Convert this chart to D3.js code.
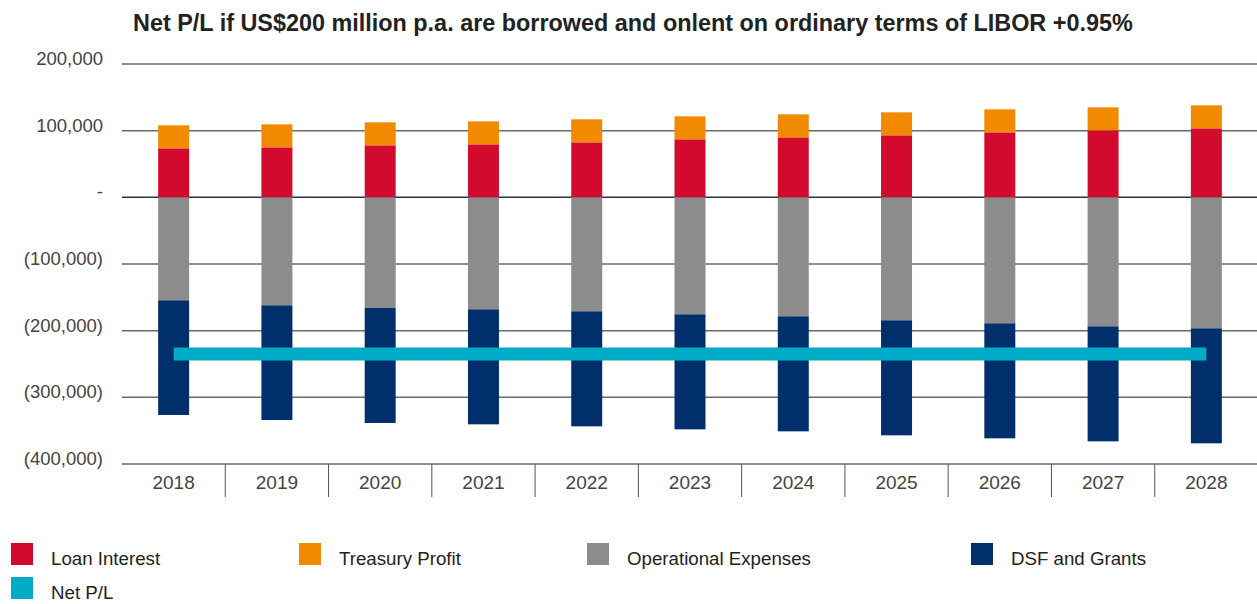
<!DOCTYPE html>
<html><head><meta charset="utf-8">
<script src="https://cdn.jsdelivr.net/npm/d3@7"></script>
<style>
html,body{margin:0;padding:0;background:#fff;}
svg{display:block;font-family:"Liberation Sans",Arial,Helvetica,sans-serif;}
</style></head>
<body><svg id="c" width="1257" height="604"></svg>
<script>
const years = ["2018","2019","2020","2021","2022","2023","2024","2025","2026","2027","2028"];
const loanInterest = [73500, 75000, 78000, 79500, 82500, 87000, 90000, 93000, 97500, 100500, 103500];
const treasuryProfit = [34500, 34500, 34500, 34500, 34500, 34500, 34500, 34500, 34500, 34500, 34500];
const operationalExpenses = [-154500, -162000, -166000, -168000, -171000, -175500, -178500, -184500, -189000, -193500, -196500];
const dsfAndGrants = [-172000, -172000, -172500, -172500, -172500, -172500, -172500, -172500, -172500, -172500, -172500];
const netPL = [-235000, -235000, -235000, -235000, -235000, -235000, -235000, -235000, -235000, -235000, -235000];
const yTicks = [200000, 100000, 0, -100000, -200000, -300000, -400000];
const seriesNames = ["Loan Interest", "Treasury Profit", "Operational Expenses", "DSF and Grants", "Net P/L"];
const seriesColors = ["#D10A2E", "#F28A00", "#8B8C8B", "#002F6C", "#00ABC8"];
const title = "Net P/L if US$200 million p.a. are borrowed and onlent on ordinary terms of LIBOR +0.95%";

const svg = d3.select("#c");
const L = 122, R = 1258, T = 64, B = 464;

const x = d3.scaleBand().domain(years).range([L, R]).paddingInner(0.7).paddingOuter(0.35);
const y = d3.scaleLinear().domain([-400000, 200000]).range([B, T]);

const fmt = v => v === 0 ? "-" : (v < 0 ? "(" + d3.format(",")(-v) + ")" : d3.format(",")(v));

// title
svg.append("text").attr("x", 133).attr("y", 31).attr("font-size", 23.4).attr("font-weight", "bold")
  .attr("fill", "#222").text(title);

// gridlines
svg.append("g").selectAll("line").data(yTicks).join("line")
  .attr("x1", L).attr("x2", 1257).attr("y1", d => y(d)).attr("y2", d => y(d))
  .attr("stroke", d => (d === 0) ? "#333" : "#6a6a6a").attr("stroke-width", 1.5);

// y labels
const yAxis = d3.axisLeft(y).tickValues(yTicks).tickFormat(fmt).tickSize(0).tickPadding(0);
const gy = svg.append("g").attr("transform", `translate(${103},0)`).call(yAxis);
gy.select(".domain").remove();
gy.selectAll("text").attr("font-size", 18.5).attr("fill", "#444")
  .attr("font-family", "'Liberation Sans',Arial,sans-serif")
  .attr("dy", "0.02em");

// stacked bars
const rows = years.map((yr, i) => ({year: yr, loan: loanInterest[i], treasury: treasuryProfit[i], opex: operationalExpenses[i], dsf: dsfAndGrants[i]}));
const keys = ["loan", "treasury", "opex", "dsf"];
const stack = d3.stack().keys(keys).offset(d3.stackOffsetDiverging)(rows);
svg.append("g").selectAll("g").data(stack).join("g")
  .attr("fill", (d, i) => seriesColors[i])
  .selectAll("rect").data(d => d).join("rect")
  .attr("x", d => x(d.data.year)).attr("width", x.bandwidth())
  .attr("y", d => y(Math.max(d[0], d[1])))
  .attr("height", d => Math.abs(y(d[0]) - y(d[1])));

// net P/L line
const line = d3.line().x((d, i) => x(years[i]) + x.bandwidth() / 2).y(d => y(d));
svg.append("path").datum(netPL).attr("d", line).attr("fill", "none")
  .attr("stroke", seriesColors[4]).attr("stroke-width", 13);

// x axis separators and labels
const step = x.step();
const gx = svg.append("g");
gx.selectAll("line").data(years.slice(1)).join("line")
  .attr("x1", d => x(d) - x.paddingOuter() * step).attr("x2", d => x(d) - x.paddingOuter() * step)
  .attr("y1", B).attr("y2", 497).attr("stroke", "#555").attr("stroke-width", 1);
gx.selectAll("text").data(years).join("text")
  .attr("x", d => x(d) + x.bandwidth() / 2).attr("y", 488.5)
  .attr("text-anchor", "middle").attr("font-size", 19).attr("fill", "#444").text(d => d);

// legend
const legX = [11, 299, 587, 971, 11];
const legY = [543, 543, 543, 543, 577];
const lg = svg.append("g").selectAll("g").data(seriesNames).join("g")
  .attr("transform", (d, i) => `translate(${legX[i]},${legY[i]})`);
lg.append("rect").attr("width", 22).attr("height", 22).attr("fill", (d, i) => seriesColors[i]);
lg.append("text").attr("x", 40).attr("y", 21.5).attr("font-size", 18.7).attr("fill", "#222").text(d => d);
</script></body></html>
